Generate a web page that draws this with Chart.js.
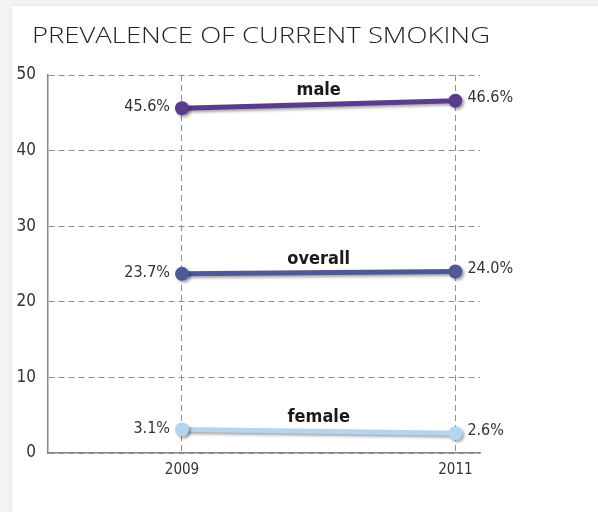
<!DOCTYPE html>
<html>
<head>
<meta charset="utf-8">
<script src="https://cdn.jsdelivr.net/npm/chart.js@4"></script>
<style>
  html, body { margin: 0; padding: 0; background: #f3f3f3; }
  #wrap { position: relative; width: 598px; height: 512px; overflow: hidden; }
  #card { position: absolute; left: 12px; top: 6px; width: 600px; height: 520px; background: #fff;
          box-shadow: 0 0 4px rgba(0,0,0,0.08); }
  #c { position: absolute; left: 0; top: 0; }
</style>
</head>
<body>
<div id="wrap">
  <div id="card"></div>
  <canvas id="c" width="598" height="512"></canvas>
</div>
<script>
// Survey years and smoking prevalence (%) by group
const years = [2009, 2011];
const seriesNames = ['male', 'overall', 'female'];
const maleValues = [45.6, 46.6];
const overallValues = [23.7, 24.0];
const femaleValues = [3.1, 2.6];
const yTickValues = [0, 10, 20, 30, 40, 50];
const chartTitle = 'PREVALENCE OF CURRENT SMOKING';

const colors = ['#5b3b8d', '#4e5a97', '#b4d5ef'];
const allValues = [maleValues, overallValues, femaleValues];

const narrow = "'DejaVu Sans Condensed', 'Liberation Sans Narrow', 'Liberation Sans', sans-serif";

const datasets = allValues.map((vals, i) => ({
  label: seriesNames[i],
  data: vals.map((v, j) => ({ x: years[j], y: v })),
  borderColor: colors[i],
  backgroundColor: colors[i],
  pointBackgroundColor: colors[i],
  pointBorderWidth: 0,
  pointRadius: 7,
  borderWidth: 5,
  tension: 0
}));

// Soft drop shadow under the lines and markers
const shadowPlugin = {
  id: 'shadow',
  beforeDatasetsDraw(chart) {
    const ctx = chart.ctx;
    ctx.save();
    ctx.shadowColor = 'rgba(0,0,0,0.35)';
    ctx.shadowBlur = 3;
    ctx.shadowOffsetX = 2;
    ctx.shadowOffsetY = 2;
  },
  afterDatasetsDraw(chart) {
    chart.ctx.restore();
  }
};

// Title, value labels at both ends and the group names above each line
const labelPlugin = {
  id: 'labels',
  afterDatasetsDraw(chart) {
    const ctx = chart.ctx;
    ctx.save();
    ctx.fillStyle = '#222';
    ctx.font = "300 22px 'Open Sans', Roboto, sans-serif";
    ctx.textAlign = 'left';
    ctx.textBaseline = 'alphabetic';
    // widen the light title face to span the plot
    const natural = ctx.measureText(chartTitle).width;
    const stretch = 458 / natural;
    ctx.save();
    ctx.translate(32, 43);
    ctx.scale(stretch, 1);
    ctx.fillText(chartTitle, 0, 0);
    ctx.restore();

    chart.data.datasets.forEach((ds, i) => {
      const meta = chart.getDatasetMeta(i);
      const p0 = meta.data[0], p1 = meta.data[1];
      ctx.fillStyle = '#333';
      ctx.font = '16px ' + narrow;
      ctx.textBaseline = 'middle';
      ctx.textAlign = 'right';
      ctx.fillText(allValues[i][0].toFixed(1) + '%', p0.x - 12, p0.y - 1);
      ctx.textAlign = 'left';
      ctx.fillText(allValues[i][1].toFixed(1) + '%', p1.x + 12, p1.y - 3);

      ctx.fillStyle = '#1a1a1a';
      ctx.font = 'bold 18px ' + narrow;
      ctx.textAlign = 'center';
      ctx.textBaseline = 'alphabetic';
      const mx = (p0.x + p1.x) / 2;
      const my = (p0.y + p1.y) / 2;
      ctx.fillText(ds.label, mx, my - 9);
    });
    ctx.restore();
  }
};

new Chart(document.getElementById('c'), {
  type: 'line',
  data: { datasets },
  options: {
    responsive: false,
    animation: false,
    layout: { padding: { left: 0, top: 75, right: 118, bottom: 0 } },
    plugins: { legend: { display: false }, tooltip: { enabled: false } },
    scales: {
      x: {
        type: 'linear',
        min: 2008.02,
        max: 2011.18,
        afterBuildTicks(scale) { scale.ticks = years.map(v => ({ value: v })); },
        afterFit(scale) { scale.height = 59; },
        grid: { color: '#8f8f8f', lineWidth: 1, drawTicks: false },
        border: { display: true, color: '#888', width: 1.5, dash: [6, 4] },
        ticks: {
          padding: 8,
          color: '#333',
          font: { family: narrow, size: 15 },
          callback: v => String(v)
        }
      },
      y: {
        min: 0,
        max: 50,
        afterBuildTicks(scale) { scale.ticks = yTickValues.map(v => ({ value: v })); },
        afterFit(scale) { scale.width = 48; },
        grid: { color: '#8f8f8f', lineWidth: 1, drawTicks: false },
        border: { display: true, color: '#888', width: 1.5, dash: [6, 4] },
        ticks: {
          padding: 12,
          color: '#333',
          font: { family: narrow, size: 17 }
        }
      }
    }
  },
  plugins: [shadowPlugin, labelPlugin]
});
</script>
</body>
</html>
